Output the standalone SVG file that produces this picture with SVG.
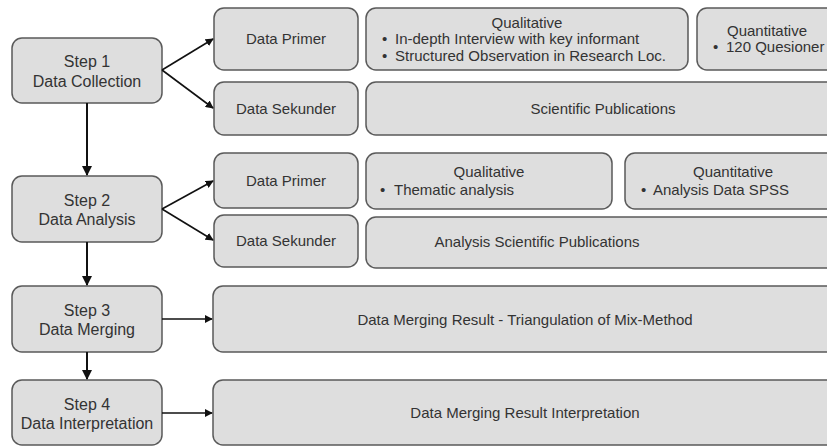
<svg xmlns="http://www.w3.org/2000/svg" width="827" height="446" viewBox="0 0 827 446">
<defs>
<style>
.box{fill:#dedede;stroke:#5a5a5a;stroke-width:1.5}
.t{font-family:"Liberation Sans",Arial,sans-serif;font-size:15px;fill:#333}
.s{font-family:"Liberation Sans",Arial,sans-serif;font-size:16px;fill:#333}
.c{text-anchor:middle}
.ln{stroke:#111;stroke-width:2;fill:none}
.ld{stroke:#111;stroke-width:1.6;fill:none}
</style>
<marker id="ah" viewBox="0 0 10 10" refX="9" refY="5" markerWidth="5" markerHeight="5" orient="auto" markerUnits="strokeWidth">
<path d="M0,0 L10,5 L0,10 z" fill="#111"/>
</marker>
</defs>
<rect width="827" height="446" fill="#fff"/>

<g id="step1"><rect class="box" x="12" y="38" width="150" height="65" rx="10"/>
<text class="s c" x="87" y="67">Step 1</text><text class="s c" x="87" y="87">Data Collection</text></g>
<g id="step2"><rect class="box" x="12" y="176" width="150" height="66" rx="10"/>
<text class="s c" x="87" y="206">Step 2</text><text class="s c" x="87" y="225">Data Analysis</text></g>
<g id="step3"><rect class="box" x="12" y="286" width="150" height="66" rx="10"/>
<text class="s c" x="87" y="316">Step 3</text><text class="s c" x="87" y="335">Data Merging</text></g>
<g id="step4"><rect class="box" x="12" y="380" width="150" height="65" rx="10"/>
<text class="s c" x="87" y="410">Step 4</text><text class="s c" x="87" y="429">Data Interpretation</text></g>

<g id="primer1"><rect class="box" x="214" y="8" width="144" height="62" rx="10"/>
<text class="t c" x="286" y="44">Data Primer</text></g>
<g id="sekunder1"><rect class="box" x="214" y="82" width="144" height="53" rx="10"/>
<text class="t c" x="286" y="114">Data Sekunder</text></g>
<g id="qual1"><rect class="box" x="366" y="8" width="322" height="62" rx="10"/>
<text class="t c" x="527" y="28">Qualitative</text>
<text class="t"><tspan x="382" y="44">•</tspan><tspan x="395" y="44">In-depth Interview with key informant</tspan></text>
<text class="t"><tspan x="382" y="61">•</tspan><tspan x="395" y="61">Structured Observation in Research Loc.</tspan></text></g>
<g id="quant1"><rect class="box" x="697" y="8" width="142" height="62" rx="10"/>
<text class="t c" x="767" y="36">Quantitative</text>
<text class="t"><tspan x="713" y="52">•</tspan><tspan x="726" y="52">120 Quesioner</tspan></text></g>
<g id="sci1"><rect class="box" x="366" y="82" width="473" height="53" rx="10"/>
<text class="t c" x="603" y="114">Scientific Publications</text></g>

<g id="primer2"><rect class="box" x="214" y="153" width="144" height="55" rx="10"/>
<text class="t c" x="286" y="186">Data Primer</text></g>
<g id="sekunder2"><rect class="box" x="214" y="215" width="144" height="52" rx="10"/>
<text class="t c" x="286" y="246">Data Sekunder</text></g>
<g id="qual2"><rect class="box" x="366" y="153" width="246" height="56" rx="10"/>
<text class="t c" x="489" y="177">Qualitative</text>
<text class="t"><tspan x="380" y="195">•</tspan><tspan x="394" y="195">Thematic analysis</tspan></text></g>
<g id="quant2"><rect class="box" x="625" y="153" width="216" height="56" rx="10"/>
<text class="t c" x="733" y="177">Quantitative</text>
<text class="t"><tspan x="641" y="195">•</tspan><tspan x="653" y="195">Analysis Data SPSS</tspan></text></g>
<g id="sci2"><rect class="box" x="366" y="217" width="473" height="51" rx="10"/>
<text class="t c" x="537" y="247">Analysis Scientific Publications</text></g>

<g id="merge"><rect class="box" x="213" y="286" width="626" height="66" rx="10"/>
<text class="t c" x="525" y="325">Data Merging Result - Triangulation of Mix-Method</text></g>
<g id="interp"><rect class="box" x="213" y="380" width="626" height="65" rx="10"/>
<text class="t c" x="525" y="418">Data Merging Result Interpretation</text></g>

<g id="connectors">
<line class="ld" x1="162" y1="70" x2="213" y2="39" marker-end="url(#ah)"/>
<line class="ld" x1="162" y1="70" x2="213" y2="108" marker-end="url(#ah)"/>
<line class="ld" x1="162" y1="209" x2="213" y2="181" marker-end="url(#ah)"/>
<line class="ld" x1="162" y1="209" x2="213" y2="240" marker-end="url(#ah)"/>
<line class="ld" x1="162" y1="319" x2="212" y2="319" marker-end="url(#ah)"/>
<line class="ld" x1="162" y1="413" x2="212" y2="413" marker-end="url(#ah)"/>
<line class="ln" x1="87" y1="103" x2="87" y2="175" marker-end="url(#ah)"/>
<line class="ln" x1="87" y1="242" x2="87" y2="285" marker-end="url(#ah)"/>
<line class="ln" x1="87" y1="352" x2="87" y2="379" marker-end="url(#ah)"/>
</g>
</svg>
